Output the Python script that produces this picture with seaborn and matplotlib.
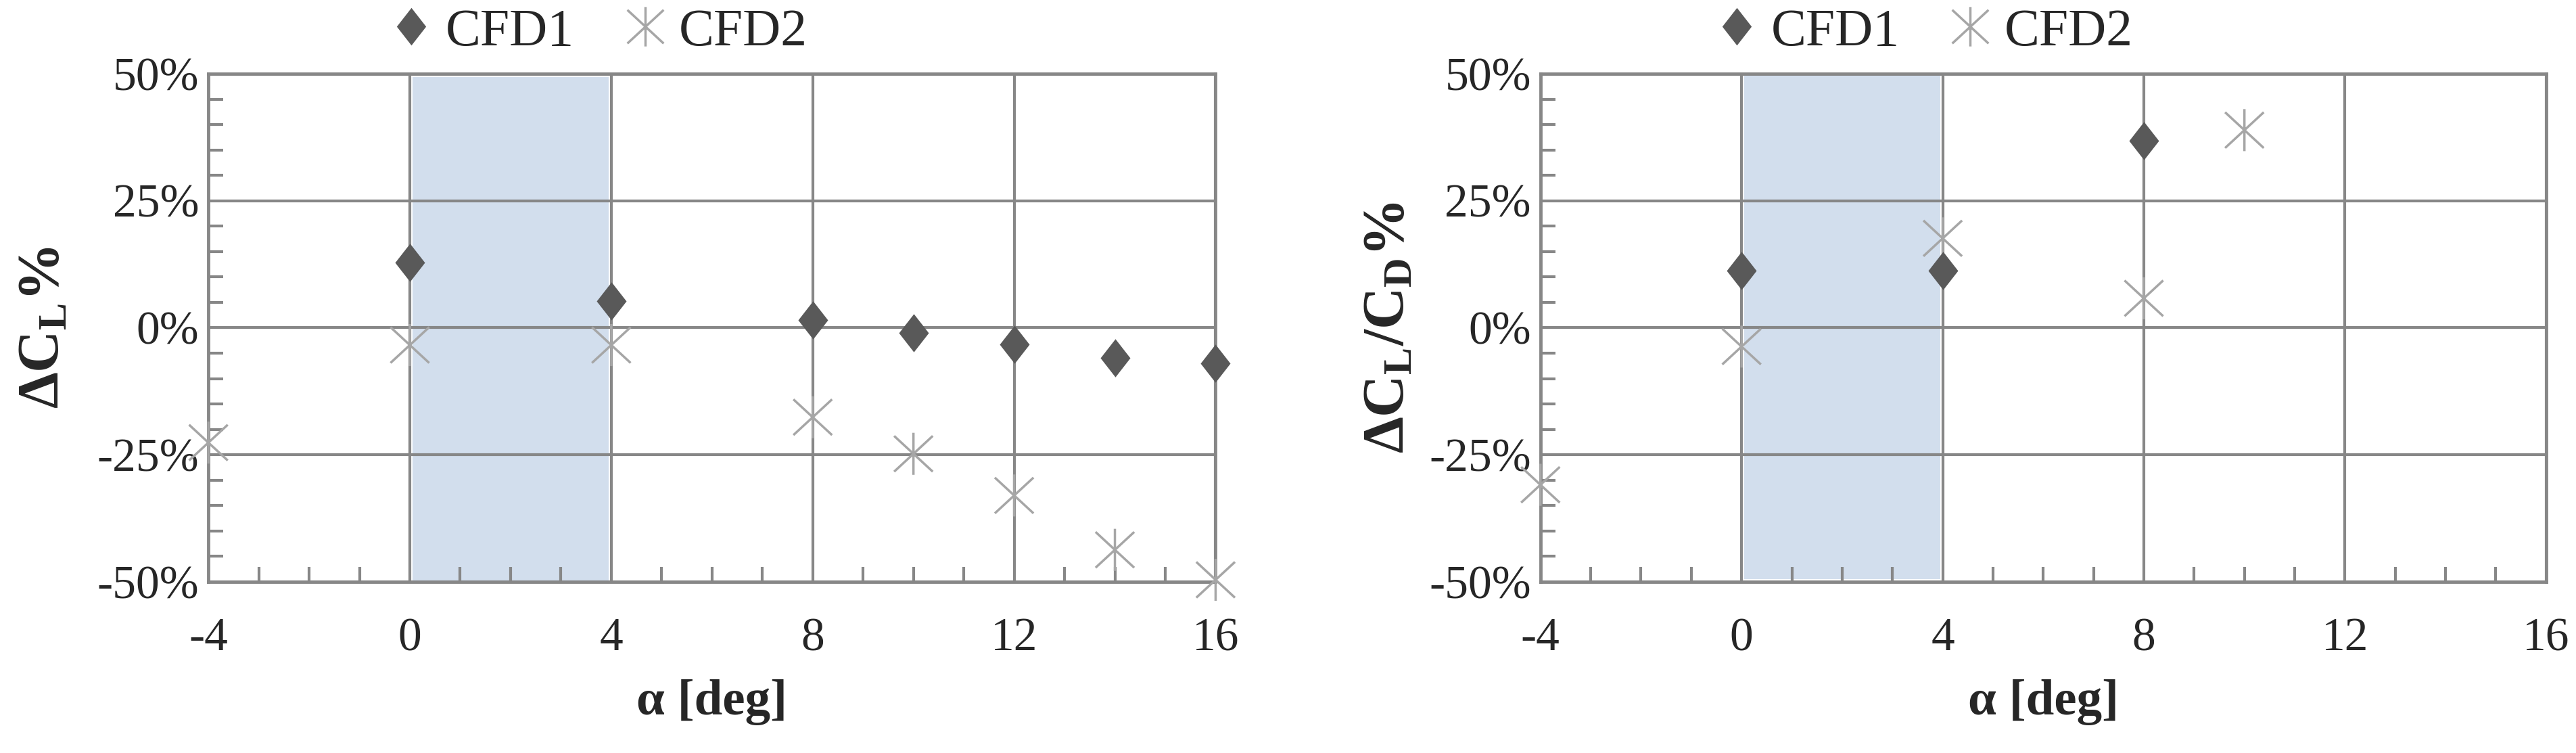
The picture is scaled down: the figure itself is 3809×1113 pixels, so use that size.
import numpy as np
import pandas as pd
import matplotlib
matplotlib.use("Agg")
import matplotlib.pyplot as plt
import seaborn as sns
from matplotlib.path import Path
from matplotlib.patches import Rectangle
from matplotlib.lines import Line2D
from matplotlib.ticker import MultipleLocator, FuncFormatter

# ---------------- data ----------------
alpha_cl_cfd1 = [0, 4, 8, 10, 12, 14, 16]
cl_cfd1 = [12.8, 5.3, 1.5, -1.0, -3.2, -5.9, -7.0]
alpha_cl_cfd2 = [-4, 0, 4, 8, 10, 12, 14, 16]
cl_cfd2 = [-22.6, -3.4, -3.4, -17.6, -24.8, -33.0, -43.7, -49.6]

alpha_ld_cfd1 = [0, 4, 8]
ld_cfd1 = [11.2, 11.2, 36.8]
alpha_ld_cfd2 = [-4, 0, 4, 8, 10]
ld_cfd2 = [-30.9, -3.7, 17.6, 5.8, 38.9]

shade_x = [0.05, 3.95]
shade_y_left = [-50.0, 49.3]
shade_y_right = [-49.4, 50.0]

x_ticks = [-4, 0, 4, 8, 12, 16]
y_ticks = [-50, -25, 0, 25, 50]
series_names = ["CFD1", "CFD2"]
y_labels = [r"$\mathbf{\Delta C_L}$%", r"$\mathbf{\Delta C_L/C_D}$%"]
x_label = "α [deg]"

# ---------------- style ----------------
sns.set_style("white")
plt.rcParams["font.family"] = ["Liberation Serif", "DejaVu Serif"]
plt.rcParams["mathtext.fontset"] = "custom"
plt.rcParams["mathtext.rm"] = "Liberation Serif"
plt.rcParams["mathtext.bf"] = "Liberation Serif:bold"
plt.rcParams["mathtext.it"] = "Liberation Serif:italic"
plt.rcParams["axes.unicode_minus"] = False

c1 = "#595959"
c2 = "#a6a6a6"
grid_c = "#878787"
shade_c = "#d2deed"
FS = 50

star = Path(
    [(0, -1), (0, 1), (-0.92, -0.85), (0.92, 0.85), (-0.92, 0.85), (0.92, -0.85)],
    [Path.MOVETO, Path.LINETO, Path.MOVETO, Path.LINETO, Path.MOVETO, Path.LINETO],
)
diamond = Path(
    [(0, 1), (0.78, 0), (0, -1), (-0.78, 0), (0, 1)],
    [Path.MOVETO, Path.LINETO, Path.LINETO, Path.LINETO, Path.CLOSEPOLY],
)

fig = plt.figure(figsize=(38.09, 11.13), dpi=100)
ax1 = fig.add_axes([0.0809, 0.2273, 0.3910, 0.6748])
ax2 = fig.add_axes([0.5980, 0.2273, 0.3904, 0.6748])

panels = [
    (ax1, alpha_cl_cfd1, cl_cfd1, alpha_cl_cfd2, cl_cfd2, shade_y_left, y_labels[0], 0.233, 28),
    (ax2, alpha_ld_cfd1, ld_cfd1, alpha_ld_cfd2, ld_cfd2, shade_y_right, y_labels[1], 0.7475, 14),
]

for ax, x1, y1, x2, y2, sy, ylab, legx, ylpad in panels:
    ax.add_patch(Rectangle((shade_x[0], sy[0]), shade_x[1] - shade_x[0], sy[1] - sy[0],
                           facecolor=shade_c, edgecolor="none", zorder=0.3))
    df1 = pd.DataFrame({"x": x1, "y": y1})
    df2 = pd.DataFrame({"x": x2, "y": y2})
    sns.scatterplot(data=df1, x="x", y="y", ax=ax, marker=diamond, s=1650,
                    color=c1, edgecolor=c1, linewidth=0, clip_on=False, zorder=5)
    sns.scatterplot(data=df2, x="x", y="y", ax=ax, marker=star, s=2000,
                    facecolor="none", edgecolor=c2, linewidth=2.5, clip_on=False, zorder=4)
    ax.set_xlim(-4, 16)
    ax.set_ylim(-50, 50)
    ax.set_xticks(x_ticks)
    ax.set_yticks(y_ticks)
    ax.xaxis.set_minor_locator(MultipleLocator(1))
    ax.yaxis.set_minor_locator(MultipleLocator(5))
    ax.yaxis.set_major_formatter(FuncFormatter(lambda v, p: f"{int(v)}%"))
    ax.grid(True, which="major", color=grid_c, linewidth=3)
    ax.tick_params(axis="both", which="major", length=0, labelsize=FS)
    ax.tick_params(axis="x", which="major", pad=38)
    ax.tick_params(axis="y", which="major", pad=10)
    ax.tick_params(axis="both", which="minor", direction="in", length=16, width=3, color=grid_c)
    ax.tick_params(axis="x", which="minor", bottom=True)
    ax.tick_params(axis="y", which="minor", left=True)
    for sp in ax.spines.values():
        sp.set_color(grid_c)
        sp.set_linewidth(3.5)
    ax.set_xlabel(x_label, fontsize=FS + 4, fontweight="bold", labelpad=20)
    ax.set_ylabel(ylab, fontsize=FS + 12, fontweight="bold", labelpad=ylpad)
    handles = [
        Line2D([], [], linestyle="none", marker=diamond, markersize=40, color=c1, markeredgewidth=0),
        Line2D([], [], linestyle="none", marker=star, markersize=42, color=c2,
               markerfacecolor="none", markeredgewidth=2.5),
    ]
    fig.legend(handles, series_names, loc="center", bbox_to_anchor=(legx, 0.957),
               ncol=2, frameon=False, fontsize=FS + 6, handlelength=0.7,
               handletextpad=0.3, columnspacing=1.0)

fig.savefig("out.png", dpi=100)
